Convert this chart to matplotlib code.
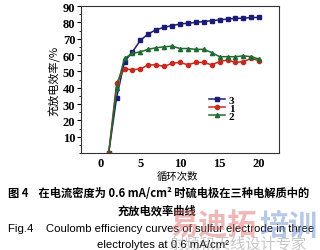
import matplotlib
matplotlib.use("Agg")
import matplotlib.pyplot as plt
from matplotlib.ticker import MultipleLocator

cycles = list(range(1, 21))
eff_3 = [0, 34, 56, 62, 69, 73, 75.5, 77, 78, 79, 79.5, 80, 80.5, 81, 81.5, 82, 82.5, 82.5, 83, 83]
eff_1 = [0, 43, 51.5, 51, 51.5, 54, 54, 53, 55, 55.5, 54, 55.5, 55.5, 54, 56, 57, 55.5, 56, 58, 56.5]
eff_2 = [0, 40, 58, 61, 62, 63.5, 64.5, 65, 65.5, 64, 64, 63.5, 63.5, 61.5, 59, 59, 59, 59.5, 59, 57.5]
labels = ["3", "1", "2"]
x_ticks = [0, 5, 10, 15, 20]
y_ticks = [10, 20, 30, 40, 50, 60, 70, 80, 90]

cjk = ["Noto Sans CJK SC", "DejaVu Sans"]
serif = "Liberation Serif"

fig = plt.figure(figsize=(3.20, 2.51), dpi=100)
ax = fig.add_axes([0.253, 0.386, 0.619, 0.586])

ax.plot(cycles, eff_3, color="#1c1c78", marker="s", markersize=3, lw=1.1, label=labels[0])
ax.plot(cycles, eff_1, color="#c8281e", marker="o", markersize=3, lw=1.1, label=labels[1])
ax.plot(cycles, eff_2, color="#1e6a30", marker="^", markersize=3, lw=1.1, label=labels[2])

ax.set_xlim(-2.5, 22.5)
ax.set_ylim(0, 90)
ax.set_xticks(x_ticks)
ax.set_yticks(y_ticks)
ax.yaxis.set_minor_locator(MultipleLocator(5))
ax.tick_params(axis="x", length=0, pad=3)
ax.tick_params(axis="y", which="major", length=3, width=0.8, pad=1)
ax.tick_params(axis="y", which="minor", length=1.5, width=0.6)
for lab in ax.get_xticklabels() + ax.get_yticklabels():
    lab.set_fontfamily(serif)
    lab.set_fontweight("bold")
    lab.set_fontsize(9)
for s in ax.spines.values():
    s.set_linewidth(0.8)
    s.set_color("#333333")

ax.set_ylabel("充放电效率/%", family=cjk, fontsize=8, labelpad=2)

leg = ax.legend(loc="center left", bbox_to_anchor=(0.635, 0.566),
                bbox_transform=fig.transFigure, frameon=False,
                prop={"family": serif, "weight": "bold", "size": 8},
                handlelength=1.5, handletextpad=0.3, labelspacing=-0.15,
                borderpad=0, numpoints=1)

fig.text(0.556, 0.295, "循环次数", family=cjk, fontsize=7.5, ha="center", va="center")
fig.text(0.025, 0.228, "图 4    在电流密度为 0.6 mA/cm² 时硫电极在三种电解质中的",
         family=cjk, fontsize=8.1, ha="left", va="center", weight="bold")
fig.text(0.49, 0.16, "充放电效率曲线", family=cjk, fontsize=8.1, ha="center", va="center", weight="bold")
fig.text(0.025, 0.088, "Fig.4    Coulomb efficiency curves of sulfur electrode in three",
         family="Liberation Sans", fontsize=8.2, ha="left", va="center")
fig.text(0.51, 0.024, "electrolytes at 0.6 mA/cm²", family="Liberation Sans", fontsize=8.2,
         ha="center", va="center")

# watermark
fig.text(0.53, 0.10, "易迪拓", family=cjk, fontsize=21, weight="bold", color="#e07070",
         alpha=0.5, ha="left", va="center")
fig.text(0.81, 0.10, "培训", family=cjk, fontsize=21, weight="bold", color="#7090d0",
         alpha=0.5, ha="left", va="center")
fig.text(0.53, 0.03, "射频和天线设计专家", family=cjk, fontsize=11, color="#999999",
         alpha=0.55, ha="left", va="center")

fig.savefig("out.png", dpi=100)
